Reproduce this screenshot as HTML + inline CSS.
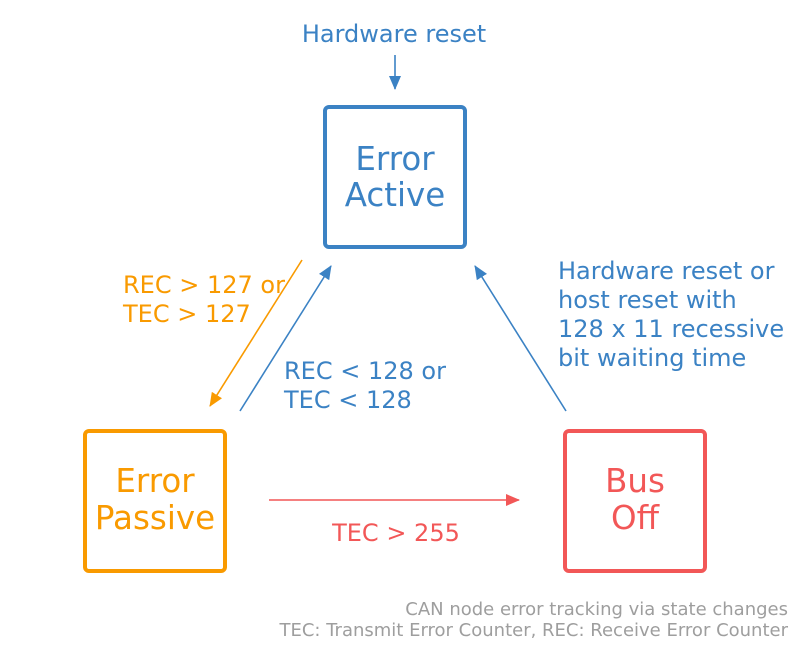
<!DOCTYPE html>
<html><head><style>
body{margin:0;background:#fff;}
svg text{font-family:"DejaVu Sans","Liberation Sans",sans-serif;}
</style></head><body>
<svg width="800" height="650" viewBox="0 0 800 650" xmlns="http://www.w3.org/2000/svg">
<defs>
<marker id="ab" markerWidth="14" markerHeight="12" refX="13" refY="6" orient="auto" markerUnits="userSpaceOnUse"><path d="M0,0 L14,6 L0,12 z" fill="#3b82c4"/></marker>
<marker id="ao" markerWidth="14" markerHeight="12" refX="13" refY="6" orient="auto" markerUnits="userSpaceOnUse"><path d="M0,0 L14,6 L0,12 z" fill="#f99a00"/></marker>
<marker id="ar" markerWidth="14" markerHeight="12" refX="13" refY="6" orient="auto" markerUnits="userSpaceOnUse"><path d="M0,0 L14,6 L0,12 z" fill="#f25757"/></marker>
</defs>
<text x="394" y="42" font-size="24" fill="#3b82c4" text-anchor="middle">Hardware reset</text>
<line x1="395" y1="55" x2="395" y2="89" stroke="#3b82c4" stroke-width="1.6" marker-end="url(#ab)"/>
<rect x="325" y="107" width="140" height="140" rx="4" fill="none" stroke="#3b82c4" stroke-width="4"/>
<text x="395" y="170" font-size="32.5" fill="#3b82c4" text-anchor="middle">Error</text>
<text x="395" y="206" font-size="32.5" fill="#3b82c4" text-anchor="middle">Active</text>
<rect x="85" y="431" width="140" height="140" rx="4" fill="none" stroke="#f99a00" stroke-width="4"/>
<text x="155" y="492" font-size="32.5" fill="#f99a00" text-anchor="middle">Error</text>
<text x="155" y="529" font-size="32.5" fill="#f99a00" text-anchor="middle">Passive</text>
<rect x="565" y="431" width="140" height="140" rx="4" fill="none" stroke="#f25757" stroke-width="4"/>
<text x="635" y="492" font-size="32.5" fill="#f25757" text-anchor="middle">Bus</text>
<text x="635" y="529" font-size="32.5" fill="#f25757" text-anchor="middle">Off</text>
<line x1="302" y1="260" x2="210" y2="406" stroke="#f99a00" stroke-width="1.6" marker-end="url(#ao)"/>
<line x1="240" y1="411" x2="331" y2="266" stroke="#3b82c4" stroke-width="1.6" marker-end="url(#ab)"/>
<line x1="566" y1="411" x2="475" y2="266" stroke="#3b82c4" stroke-width="1.6" marker-end="url(#ab)"/>
<line x1="269" y1="500" x2="519" y2="500" stroke="#f25757" stroke-width="1.6" marker-end="url(#ar)"/>
<text font-size="24" fill="#f99a00"><tspan x="123" y="293">REC &gt; 127 or</tspan><tspan x="123" y="322">TEC &gt; 127</tspan></text>
<text font-size="24" fill="#3b82c4"><tspan x="284" y="379">REC &lt; 128 or</tspan><tspan x="284" y="408">TEC &lt; 128</tspan></text>
<text font-size="24" fill="#3b82c4"><tspan x="558" y="279">Hardware reset or</tspan><tspan x="558" y="308">host reset with</tspan><tspan x="558" y="337">128 x 11 recessive</tspan><tspan x="558" y="366">bit waiting time</tspan></text>
<text x="396" y="541" font-size="24" fill="#f25757" text-anchor="middle">TEC &gt; 255</text>
<text font-size="18" fill="#9e9e9e" text-anchor="end"><tspan x="788" y="615">CAN node error tracking via state changes</tspan><tspan x="788" y="636">TEC: Transmit Error Counter, REC: Receive Error Counter</tspan></text>
</svg>
</body></html>
